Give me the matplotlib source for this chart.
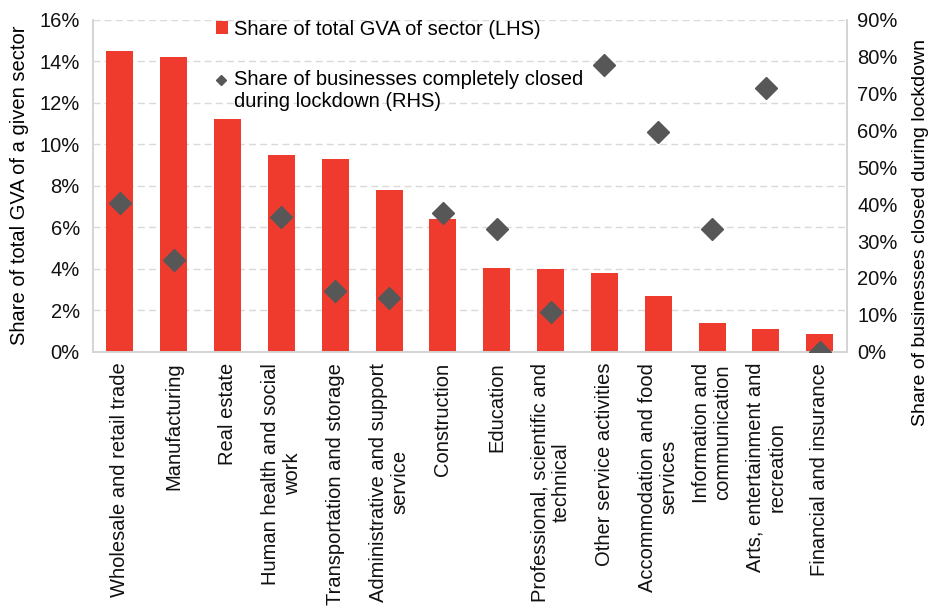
import numpy as np
import matplotlib
matplotlib.use("Agg")
import matplotlib.pyplot as plt
from matplotlib.ticker import PercentFormatter

plt.rcParams['font.family'] = ['Liberation Sans', 'DejaVu Sans']

sectors = [
    "Wholesale and retail trade",
    "Manufacturing",
    "Real estate",
    "Human health and social\nwork",
    "Transportation and storage",
    "Administrative and support\nservice",
    "Construction",
    "Education",
    "Professional, scientific and\ntechnical",
    "Other service activities",
    "Accommodation and food\nservices",
    "Information and\ncommunication",
    "Arts, entertainment and\nrecreation",
    "Financial and insurance",
]
gva_share = [14.5, 14.2, 11.2, 9.5, 9.3, 7.8, 6.4, 4.05, 3.97, 3.78, 2.68, 1.36, 1.07, 0.83]
closed_share = [40.3, 24.9, np.nan, 36.6, 16.5, 14.5, 37.5, 33.2, 10.8, 77.9, 59.7, 33.2, 71.5, 0.0]

red = '#EE3B2D'
grey = '#575757'
spine_col = '#D4D4D4'
fs = 14.5

fig = plt.figure(figsize=(9.33, 6.09), dpi=100)
ax = fig.add_axes([0.0997, 0.4228, 0.8078, 0.5444])
ax2 = ax.twinx()

x = np.arange(len(sectors))
bars = ax.bar(x, gva_share, width=0.5, color=red, zorder=2,
              label='Share of total GVA of sector (LHS)')
pts, = ax2.plot(x, closed_share, linestyle='none', marker='D', markersize=11,
                color=grey, zorder=3,
                label='Share of businesses completely closed\nduring lockdown (RHS)')

ax.set_xlim(-0.5, len(sectors) - 0.5)
ax.set_ylim(0, 16)
ax.set_yticks(np.arange(0, 17, 2))
ax.yaxis.set_major_formatter(PercentFormatter(decimals=0))
ax2.set_ylim(0, 90)
ax2.set_yticks(np.arange(0, 91, 10))
ax2.yaxis.set_major_formatter(PercentFormatter(decimals=0))

ax.set_xticks(x)
ax.set_xticklabels(sectors, rotation=90, ha='center', va='top',
                   multialignment='center', fontsize=fs)

ax.grid(axis='y', linestyle=(0, (5, 3)), color='#D9D9D9', linewidth=1, zorder=0)
ax.set_axisbelow(True)

for a in (ax, ax2):
    a.tick_params(length=0, labelsize=fs, colors='#111111')
    a.spines['top'].set_visible(False)
    for s in ('left', 'right', 'bottom'):
        a.spines[s].set_color(spine_col)
        a.spines[s].set_linewidth(1.2)
ax.tick_params(axis='y', pad=9.5)
ax.tick_params(axis='x', pad=8)
ax2.tick_params(axis='y', pad=7.5)

ax.set_ylabel('Share of total GVA of a given sector', fontsize=fs)
ax.yaxis.set_label_coords(-0.085, 0.5)
ax2.set_ylabel('Share of businesses closed during lockdown', fontsize=14)
ax2.yaxis.set_label_coords(1.087, 0.36)

leg = ax2.legend([bars, pts], [bars.get_label(), pts.get_label()],
                 loc='upper left', bbox_to_anchor=(0.163, 1.0),
                 frameon=False, fontsize=fs, handlelength=0.6,
                 handleheight=0.6, handletextpad=0.3, labelspacing=1.55,
                 borderpad=0, borderaxespad=0, markerscale=0.45)
# line the diamond up with the first line of its two-line label
dia = leg.legend_handles[1]
dia.set_ydata(np.asarray(dia.get_ydata()) + 8.3)
dia.set_xdata(np.asarray(dia.get_xdata()) - 1.0)

fig.savefig('out.png', dpi=100)
